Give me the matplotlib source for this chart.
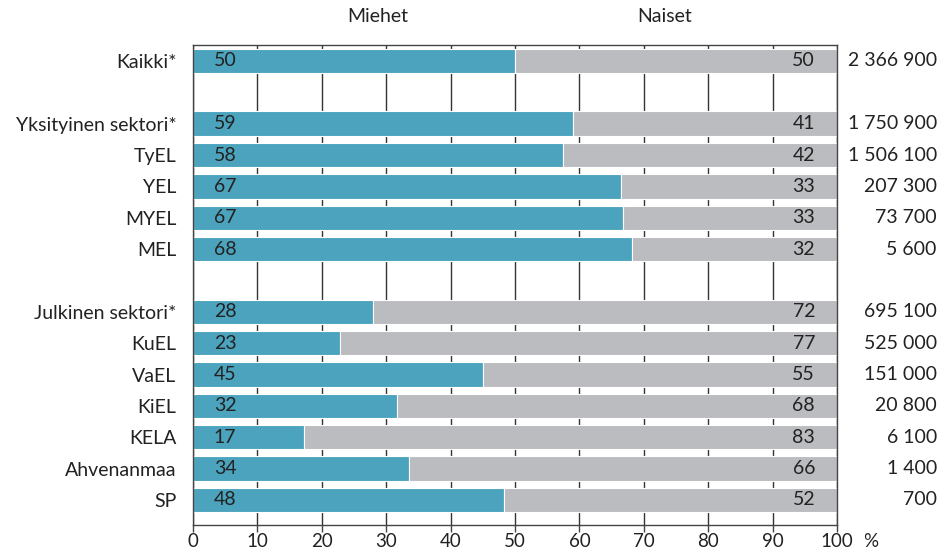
import matplotlib
matplotlib.use("Agg")
import matplotlib.pyplot as plt

categories = ["Kaikki*", "Yksityinen sektori*", "TyEL", "YEL", "MYEL", "MEL",
              "Julkinen sektori*", "KuEL", "VaEL", "KiEL", "KELA", "Ahvenanmaa", "SP"]
positions = [0, 2, 3, 4, 5, 6, 8, 9, 10, 11, 12, 13, 14]
men_share = [50.0, 59.0, 57.5, 66.5, 66.8, 68.2, 28.0, 22.8, 45.0, 31.7, 17.2, 33.5, 48.3]
men_label = [50, 59, 58, 67, 67, 68, 28, 23, 45, 32, 17, 34, 48]
women_label = [50, 41, 42, 33, 33, 32, 72, 77, 55, 68, 83, 66, 52]
totals = ["2 366 900", "1 750 900", "1 506 100", "207 300", "73 700", "5 600",
          "695 100", "525 000", "151 000", "20 800", "6 100", "1 400", "700"]
xticks = [0, 10, 20, 30, 40, 50, 60, 70, 80, 90, 100]

plt.rcParams['font.family'] = ['Lato', 'DejaVu Sans']
teal = "#4BA3BD"
grey = "#BBBCC0"
txt = "#222222"
fs = 14

top_px, bot_px = 45, 525
fig = plt.figure(figsize=(9.41, 5.5), dpi=100)
ax = fig.add_axes([193/941, 1-bot_px/550, (837-193)/941, (bot_px-top_px)/550])

women_share = [100 - m for m in men_share]
ax.barh(positions, men_share, height=0.78, color=teal, edgecolor="white", linewidth=0.8, zorder=2)
ax.barh(positions, women_share, left=men_share, height=0.78, color=grey, edgecolor="white", linewidth=0.8, zorder=2)

for p, ml, wl, tot in zip(positions, men_label, women_label, totals):
    ax.text(5, p, str(ml), ha="center", va="center", fontsize=fs, color=txt, zorder=3)
    ax.text(96.6, p, str(wl), ha="right", va="center", fontsize=fs, color=txt, zorder=3)
    ax.text(1.155, p, tot, ha="right", va="center", fontsize=fs, color=txt,
            transform=ax.get_yaxis_transform())

ax.set_xlim(0, 100)
ax.set_ylim(14.8, -0.51)
ax.set_yticks(positions)
ax.set_yticklabels(categories, fontsize=fs, color=txt)
ax.tick_params(axis="y", length=0, pad=12)
ax.set_xticks(xticks)
ax.set_xticklabels([str(x) for x in xticks], fontsize=13.5, color=txt)
ax.tick_params(axis="x", length=5, width=1, color="#444444", pad=1)
ax.grid(axis="x", color="#333333", linewidth=1, zorder=0)
ax.set_axisbelow(True)
for s in ax.spines.values():
    s.set_color("#444444")
    s.set_linewidth(1)

ax.text(0.287, 1.06, "Miehet", transform=ax.transAxes, ha="center", va="center", fontsize=fs, color=txt)
ax.text(0.733, 1.06, "Naiset", transform=ax.transAxes, ha="center", va="center", fontsize=fs, color=txt)
ax.annotate("%", xy=(1.0, 0), xycoords="axes fraction", xytext=(24, -6), textcoords="offset points",
            ha="center", va="top", fontsize=13.5, color=txt)

fig.savefig("out.png", dpi=100)
